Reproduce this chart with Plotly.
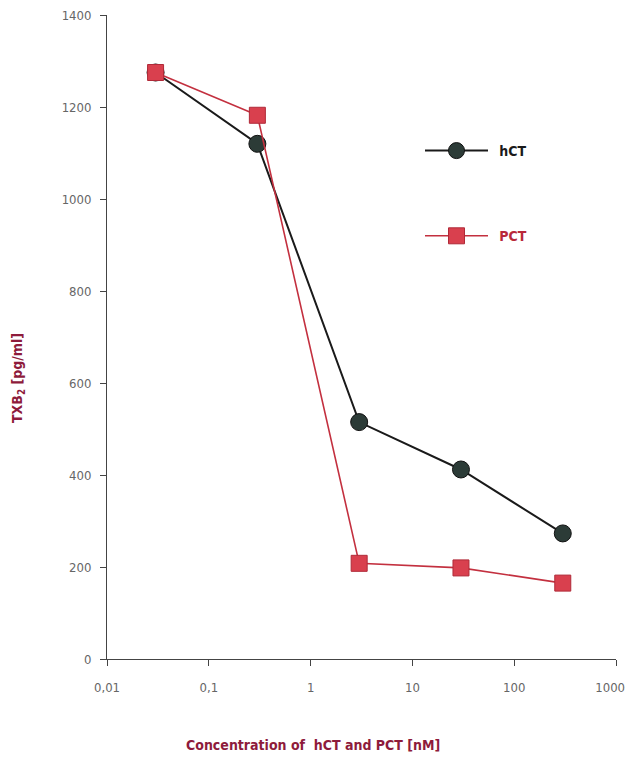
import plotly.graph_objects as go

concentration = [0.03, 0.3, 3, 30, 300]
hct_values = [1275, 1120, 515, 412, 273]
pct_values = [1275, 1182, 208, 198, 165]

x_tickvals = [0.01, 0.1, 1, 10, 100, 1000]
x_ticktext = ["0,01", "0,1", "1", "10", "100", "1000"]
y_tickvals = [0, 200, 400, 600, 800, 1000, 1200, 1400]

FONT = "DejaVu Sans Condensed, Liberation Sans, sans-serif"
TITLE_RED = "#8e1b3b"

# page body margin ~8 px at left/top
OFF = 8
W, H = 633 - OFF, 759 - OFF
L, R, T, B = 107 - OFF, 633 - 616, 15 - OFF, 759 - 659
PW, PH = W - L - R, H - T - B

# pad the last label so it stays inside the visible page edge
x_ticklabels = x_ticktext[:-1] + [x_ticktext[-1] + "\u2002\u2002"]

fig = go.Figure()
fig.add_trace(go.Scatter(
    x=concentration, y=hct_values, name="\u2002<b>hCT</b>", mode="lines+markers",
    line=dict(color="#1a1a1a", width=2),
    marker=dict(symbol="circle", size=17, color="#2c3b37", line=dict(color="#111", width=1)),
    legendgroup="a",
))
fig.add_trace(go.Scatter(
    x=concentration, y=pct_values, name="\u2002<b><span style='color:#b8283a'>PCT</span></b>",
    mode="lines+markers",
    line=dict(color="#c3303f", width=1.6),
    marker=dict(symbol="square", size=16, color="#d9404e", line=dict(color="#b02a38", width=1)),
    legendgroup="b",
))

fig.update_layout(
    width=W, height=H,
    margin=dict(l=L, r=R, t=T, b=B),
    paper_bgcolor="white", plot_bgcolor="white",
    font=dict(family=FONT, size=13, color="#666"),
    showlegend=True,
    legend=dict(x=(420 - 107) / PW, y=1 - (135 - 15) / PH, xanchor="left", yanchor="top",
                tracegroupgap=64, itemwidth=63, bgcolor="rgba(0,0,0,0)",
                font=dict(family=FONT, size=14, color="#1a1a1a")),
    xaxis=dict(type="log", range=[-2, 3], tickvals=x_tickvals, ticktext=x_ticklabels,
               showgrid=False, zeroline=False, showline=True, linecolor="#444", linewidth=1,
               ticks="outside", ticklen=6, tickcolor="#444", ticklabelstandoff=10,
               automargin=False, ticklabeloverflow="allow", tickfont=dict(size=13, color="#666")),
    yaxis=dict(range=[0, 1400], tickvals=y_tickvals,
               showgrid=False, zeroline=False, showline=True, linecolor="#444", linewidth=1,
               ticks="outside", ticklen=6, tickcolor="#444", ticklabelstandoff=6,
               automargin=False, ticklabeloverflow="allow", tickfont=dict(size=13, color="#666")),
)

fig.add_annotation(text="<b>Concentration of  hCT and PCT [nM]</b>", xref="paper", yref="paper",
                   x=(313 - 107) / PW, y=-(745 - 659) / PH, xanchor="center", yanchor="middle",
                   showarrow=False, font=dict(family=FONT, size=14, color=TITLE_RED))
fig.add_annotation(text="<b>TXB<sub>2</sub> [pg/ml]</b>", xref="paper", yref="paper",
                   x=-(107 - 18) / PW, y=(659 - 378) / PH, xanchor="center", yanchor="middle",
                   textangle=-90, showarrow=False, font=dict(family=FONT, size=14, color=TITLE_RED))

fig.write_html("out.html")
